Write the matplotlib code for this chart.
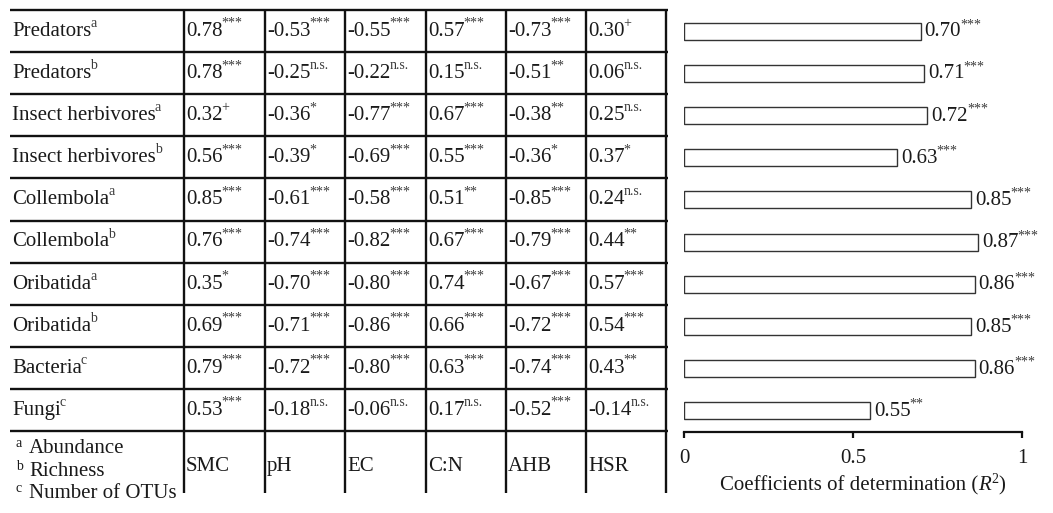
import matplotlib
matplotlib.use('Agg')
import matplotlib.pyplot as plt
from matplotlib.transforms import IdentityTransform

plt.rcParams['font.family'] = 'Liberation Serif'

# groups (rows) and the footnote letter for each
groups = ['Predators', 'Predators', 'Insect herbivores', 'Insect herbivores',
          'Collembola', 'Collembola', 'Oribatida', 'Oribatida', 'Bacteria', 'Fungi']
group_notes = ['a', 'b', 'a', 'b', 'a', 'b', 'a', 'b', 'c', 'c']

# environmental variables (columns)
variables = ['SMC', 'pH', 'EC', 'C:N', 'AHB', 'HSR']

# correlation coefficients, one list per variable
r_smc = [0.78, 0.78, 0.32, 0.56, 0.85, 0.76, 0.35, 0.69, 0.79, 0.53]
r_ph = [-0.53, -0.25, -0.36, -0.39, -0.61, -0.74, -0.70, -0.71, -0.72, -0.18]
r_ec = [-0.55, -0.22, -0.77, -0.69, -0.58, -0.82, -0.80, -0.86, -0.80, -0.06]
r_cn = [0.57, 0.15, 0.67, 0.55, 0.51, 0.67, 0.74, 0.66, 0.63, 0.17]
r_ahb = [-0.73, -0.51, -0.38, -0.36, -0.85, -0.79, -0.67, -0.72, -0.74, -0.52]
r_hsr = [0.30, 0.06, 0.25, 0.37, 0.24, 0.44, 0.57, 0.54, 0.43, -0.14]

# significance marks, same layout
p_smc = ['***', '***', '+', '***', '***', '***', '*', '***', '***', '***']
p_ph = ['***', 'n.s.', '*', '*', '***', '***', '***', '***', '***', 'n.s.']
p_ec = ['***', 'n.s.', '***', '***', '***', '***', '***', '***', '***', 'n.s.']
p_cn = ['***', 'n.s.', '***', '***', '**', '***', '***', '***', '***', 'n.s.']
p_ahb = ['***', '**', '**', '*', '***', '***', '***', '***', '***', '***']
p_hsr = ['+', 'n.s.', 'n.s.', '*', 'n.s.', '**', '***', '***', '**', 'n.s.']

# coefficients of determination of the full models
r2 = [0.70, 0.71, 0.72, 0.63, 0.85, 0.87, 0.86, 0.85, 0.86, 0.55]
r2_sig = ['***', '***', '***', '***', '***', '***', '***', '***', '***', '**']

footnotes = [('a', 'Abundance'), ('b', 'Richness'), ('c', 'Number of OTUs')]

r_cols = [r_smc, r_ph, r_ec, r_cn, r_ahb, r_hsr]
p_cols = [p_smc, p_ph, p_ec, p_cn, p_ahb, p_hsr]

W, H = 1053, 513
INK = '#1a1a1a'
SUP_INK = '#3a3a3a'
FS = 15
SUP_FS = 10

fig = plt.figure(figsize=(W / 100, H / 100), dpi=100)
renderer = fig.canvas.get_renderer()


def put(x, y, s, size=FS, color=INK, **kw):
    # x, y in display pixels, y is the text baseline
    return fig.text(x, y, s, transform=IdentityTransform(), fontsize=size,
                    color=color, va='baseline', **kw)


def put_sup(x, y, base, sup, rise=9, **kw):
    t = put(x, y, base, **kw)
    x1 = t.get_window_extent(renderer).x1
    if sup:
        s = put(x1 - 1, y + rise, sup, size=SUP_FS, color=SUP_INK)
        x1 = s.get_window_extent(renderer).x1
    return x1


# table grid
row_top = 10
row_h = 42.1
n_rows = len(groups)
col_x = [184, 265, 345, 426, 506, 586, 666]
grid_left, grid_right, grid_bottom = 10, 668, 493

ax0 = fig.add_axes([0, 0, 1, 1])
ax0.set_xlim(0, W)
ax0.set_ylim(H, 0)
ax0.axis('off')
ax0.hlines([row_top + k * row_h for k in range(n_rows + 1)], grid_left, grid_right,
           color='#111111', lw=1.7)
ax0.vlines(col_x, row_top, grid_bottom, color='#111111', lw=1.7)

for i in range(n_rows):
    base_y = H - (row_top + i * row_h + 26)
    put_sup(12, base_y, groups[i], group_notes[i], rise=9)
    for j in range(len(variables)):
        put_sup(col_x[j] + 2, base_y, f'{r_cols[j][i]:.2f}', p_cols[j][i], rise=9)

# column headers in the bottom row
hdr_y = H - 471
for j, name in enumerate(variables):
    put(col_x[j] + 2, hdr_y, name)

# footnotes
for k, (letter, text) in enumerate(footnotes):
    y = H - (453 + k * 22.5)
    put(16, y + 6, letter, size=SUP_FS)
    put(29, y, text)

# R2 bars
ax = fig.add_axes([684 / W, (H - 432) / H, 338 / W, (n_rows * row_h + 1) / H])
ax.patch.set_alpha(0)
ypos = [i + 0.5 for i in range(n_rows)]
ax.barh(ypos, r2, height=0.4, color='white', edgecolor='#333333', lw=1.0)
ax.set_xlim(0, 1)
ax.set_ylim(n_rows, 0)
for s in ['top', 'right', 'left']:
    ax.spines[s].set_visible(False)
ax.spines['bottom'].set_linewidth(1.6)
ax.spines['bottom'].set_color('#111111')
ax.set_yticks([])
ax.set_xticks([0, 0.5, 1])
ax.set_xticklabels(['0', '0.5', '1'])
ax.tick_params(axis='x', length=4, width=1.6, color='#111111', labelsize=FS,
               labelcolor=INK, pad=8)

for v, yc, sig in zip(r2, ypos, r2_sig):
    xd, yd = ax.transData.transform((v, yc))
    put_sup(xd + 4, yd - 5, f'{v:.2f}', sig, rise=8)

# axis title, built from pieces so the italic R and its superscript sit tight
lab_y = H - 490
x = 720
t = put(x, lab_y, 'Coefficients of determination (')
x = t.get_window_extent(renderer).x1
t = put(x, lab_y, 'R', style='italic')
x = t.get_window_extent(renderer).x1
t = put(x, lab_y + 7, '2', size=SUP_FS)
x = t.get_window_extent(renderer).x1
put(x, lab_y, ')')

fig.savefig('out.png', dpi=100)
